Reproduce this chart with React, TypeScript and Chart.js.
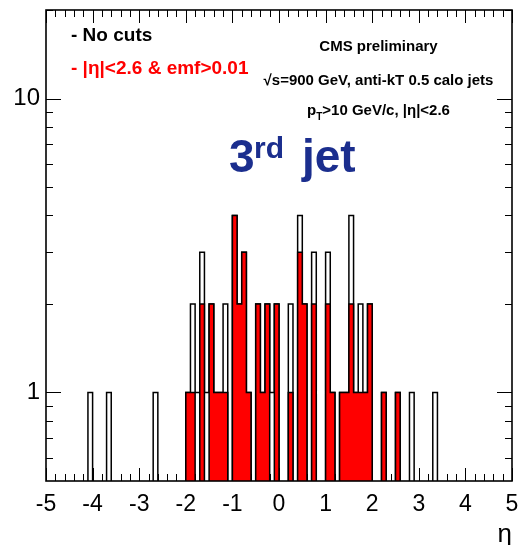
import React, { useEffect, useRef } from 'react';
import { Chart, registerables } from 'chart.js';

Chart.register(...registerables);

const ETA_MIN = -5;
const ETA_MAX = 5;
const BIN_WIDTH = 0.1;
const EMPTY = 0.1; // empty bins sit below the visible log range
const Y_MIN = 0.5;
const Y_MAX = 20;

// "No cuts": lower edge of each non-empty eta bin and its entries
const noCutsBinLow = [-4.1, -3.7, -2.7, -2.0, -1.9, -1.8, -1.7, -1.6, -1.5, -1.4, -1.3, -1.2, -1.0, -0.9, -0.8, -0.7, -0.5, -0.4, -0.3, -0.2, -0.1, 0.2, 0.4, 0.5, 0.7, 1.0, 1.1, 1.3, 1.4, 1.5, 1.6, 1.7, 1.8, 1.9, 2.2, 2.5, 2.8, 3.3];
const noCutsCounts = [1, 1, 1, 1, 2, 1, 3, 1, 2, 1, 1, 2, 4, 2, 3, 1, 2, 1, 2, 1, 2, 2, 4, 2, 3, 3, 1, 1, 1, 4, 1, 2, 1, 2, 1, 1, 1, 1];

// "|eta|<2.6 & emf>0.01"
const cutsBinLow = [-2.0, -1.9, -1.7, -1.5, -1.4, -1.3, -1.2, -1.0, -0.9, -0.8, -0.7, -0.5, -0.4, -0.3, -0.1, 0.2, 0.4, 0.5, 0.7, 1.0, 1.1, 1.3, 1.4, 1.5, 1.6, 1.7, 1.8, 1.9, 2.2, 2.5];
const cutsCounts = [1, 1, 2, 2, 1, 1, 1, 4, 2, 3, 1, 2, 1, 2, 2, 1, 3, 2, 2, 2, 1, 1, 1, 2, 1, 1, 1, 2, 1, 1];

const xMajorTicks = [-5, -4, -3, -2, -1, 0, 1, 2, 3, 4, 5];
const X_MINOR_STEP = 0.2;
const yLabelTicks = [1, 10];
const yMinorTicks = [0.6, 0.7, 0.8, 0.9, 2, 3, 4, 5, 6, 7, 8, 9, 20];

const FONT = '"Liberation Sans", Arial, Helvetica, sans-serif';

function buildSteps(lows: number[], counts: number[]) {
  const n = Math.round((ETA_MAX - ETA_MIN) / BIN_WIDTH);
  const vals: number[] = new Array(n).fill(EMPTY);
  lows.forEach((lo, k) => {
    const i = Math.round((lo - ETA_MIN) / BIN_WIDTH);
    vals[i] = counts[k];
  });
  const pts = vals.map((v, i) => ({ x: ETA_MIN + i * BIN_WIDTH, y: v }));
  pts.push({ x: ETA_MAX, y: vals[n - 1] });
  return pts;
}

const zeroPad = (s: any) => {
  s.paddingLeft = 0;
  s.paddingRight = 0;
  s.paddingTop = 0;
  s.paddingBottom = 0;
};

const ticksPlugin = {
  id: 'rootTicks',
  beforeDatasetsDraw(chart: any) {
    const { ctx, chartArea: a, scales } = chart;
    const xs = scales.x;
    const ys = scales.y;
    ctx.save();
    ctx.strokeStyle = '#000';
    ctx.lineWidth = 1;
    ctx.beginPath();
    const xMinor: number[] = [];
    for (let v = ETA_MIN; v <= ETA_MAX + 1e-9; v += X_MINOR_STEP) xMinor.push(v);
    const xt = (v: number, len: number) => {
      const px = Math.round(xs.getPixelForValue(v)) + 0.5;
      ctx.moveTo(px, a.bottom);
      ctx.lineTo(px, a.bottom - len);
      ctx.moveTo(px, a.top);
      ctx.lineTo(px, a.top + len);
    };
    xMinor.forEach((v) => xt(v, 7));
    xMajorTicks.forEach((v) => xt(v, 13));
    const yt = (v: number, len: number) => {
      const py = Math.round(ys.getPixelForValue(v)) + 0.5;
      ctx.moveTo(a.left, py);
      ctx.lineTo(a.left + len, py);
      ctx.moveTo(a.right, py);
      ctx.lineTo(a.right - len, py);
    };
    yMinorTicks.forEach((v) => yt(v, 7));
    yLabelTicks.forEach((v) => yt(v, 15));
    ctx.stroke();
    ctx.restore();
  },
  afterDatasetsDraw(chart: any) {
    const { ctx, chartArea: a } = chart;
    ctx.save();
    ctx.strokeStyle = '#000';
    ctx.lineWidth = 1.6;
    ctx.strokeRect(a.left, a.top, a.right - a.left, a.bottom - a.top);
    ctx.restore();
  },
};

const textPlugin = {
  id: 'rootText',
  afterDraw(chart: any) {
    const ctx = chart.ctx as CanvasRenderingContext2D;
    ctx.save();
    ctx.textBaseline = 'alphabetic';
    ctx.textAlign = 'left';

    ctx.font = `bold 19px ${FONT}`;
    ctx.fillStyle = '#000';
    ctx.fillText('- No cuts', 71, 41);
    ctx.fillStyle = '#ff0000';
    ctx.fillText('- |η|<2.6 & emf>0.01', 71, 74);

    ctx.fillStyle = '#000';
    ctx.font = `bold 15px ${FONT}`;
    const cx = 378.5;
    let w = ctx.measureText('CMS preliminary').width;
    ctx.fillText('CMS preliminary', cx - w / 2, 50.5);
    const s2 = '√s=900 GeV, anti-kT 0.5 calo jets';
    w = ctx.measureText(s2).width;
    ctx.fillText(s2, cx - w / 2, 85);

    // p_T line
    const rest = '>10 GeV/c, |η|<2.6';
    ctx.font = `bold 15px ${FONT}`;
    const wp = ctx.measureText('p').width;
    const wr = ctx.measureText(rest).width;
    ctx.font = `bold 10px ${FONT}`;
    const wt = ctx.measureText('T').width;
    const total = wp + wt + wr;
    let x = cx - total / 2;
    ctx.font = `bold 15px ${FONT}`;
    ctx.fillText('p', x, 115);
    x += wp;
    ctx.font = `bold 10px ${FONT}`;
    ctx.fillText('T', x, 120);
    x += wt;
    ctx.font = `bold 15px ${FONT}`;
    ctx.fillText(rest, x, 115);

    // 3rd jet
    ctx.fillStyle = '#1b2e8e';
    ctx.font = `bold 46px ${FONT}`;
    ctx.fillText('3', 229, 172);
    ctx.font = `bold 30px ${FONT}`;
    ctx.fillText('rd', 254, 158);
    ctx.font = `bold 46px ${FONT}`;
    ctx.fillText('jet', 302, 172);
    ctx.restore();
  },
};

export default function App() {
  const ref = useRef<HTMLCanvasElement>(null);
  useEffect(() => {
    const canvas = ref.current;
    if (!canvas) return;
    const chart = new Chart(canvas, {
      type: 'line',
      data: {
        datasets: [
          {
            label: '|η|<2.6 & emf>0.01',
            data: buildSteps(cutsBinLow, cutsCounts),
            stepped: true,
            borderColor: '#000',
            borderWidth: 1.5,
            backgroundColor: '#ff0000',
            fill: 'start',
            pointRadius: 0,
            order: 0,
          },
          {
            label: 'No cuts',
            data: buildSteps(noCutsBinLow, noCutsCounts),
            stepped: true,
            borderColor: '#000',
            borderWidth: 1.5,
            backgroundColor: 'rgba(0,0,0,0)',
            fill: false,
            pointRadius: 0,
            order: 1,
          },
        ],
      } as any,
      options: {
        responsive: false,
        animation: false,
        events: [],
        layout: { padding: { left: 0, right: 7, top: 10, bottom: 0 } },
        plugins: { legend: { display: false }, tooltip: { enabled: false } },
        scales: {
          x: {
            type: 'linear',
            min: ETA_MIN,
            max: ETA_MAX,
            grid: { display: false, drawTicks: false },
            border: { display: false },
            ticks: {
              stepSize: 1,
              color: '#000',
              font: { family: FONT, size: 23 },
              padding: 10,
              maxRotation: 0,
              autoSkip: false,
            },
            title: {
              display: true,
              text: 'η',
              align: 'end',
              color: '#000',
              font: { family: FONT, size: 26, lineHeight: 0.8 },
              padding: { top: 0, bottom: 0 },
            },
            afterFit: (s: any) => {
              s.height = 64;
              zeroPad(s);
            },
          },
          y: {
            type: 'logarithmic',
            min: Y_MIN,
            max: Y_MAX,
            grid: { display: false, drawTicks: false },
            border: { display: false },
            afterBuildTicks: (s: any) => {
              s.ticks = yLabelTicks.map((v) => ({ value: v }));
            },
            ticks: {
              color: '#000',
              font: { family: FONT, size: 24 },
              padding: 6,
              autoSkip: false,
              callback: (v: any) => String(v),
            },
            afterFit: (s: any) => {
              s.width = 46;
              zeroPad(s);
            },
          },
        },
      } as any,
      plugins: [ticksPlugin, textPlugin],
    });
    return () => chart.destroy();
  }, []);
  return (
    <div style={{ position: 'absolute', left: 0, top: 0, width: 519, height: 545 }}>
      <canvas ref={ref} width={519} height={545} style={{ display: 'block' }} />
    </div>
  );
}
